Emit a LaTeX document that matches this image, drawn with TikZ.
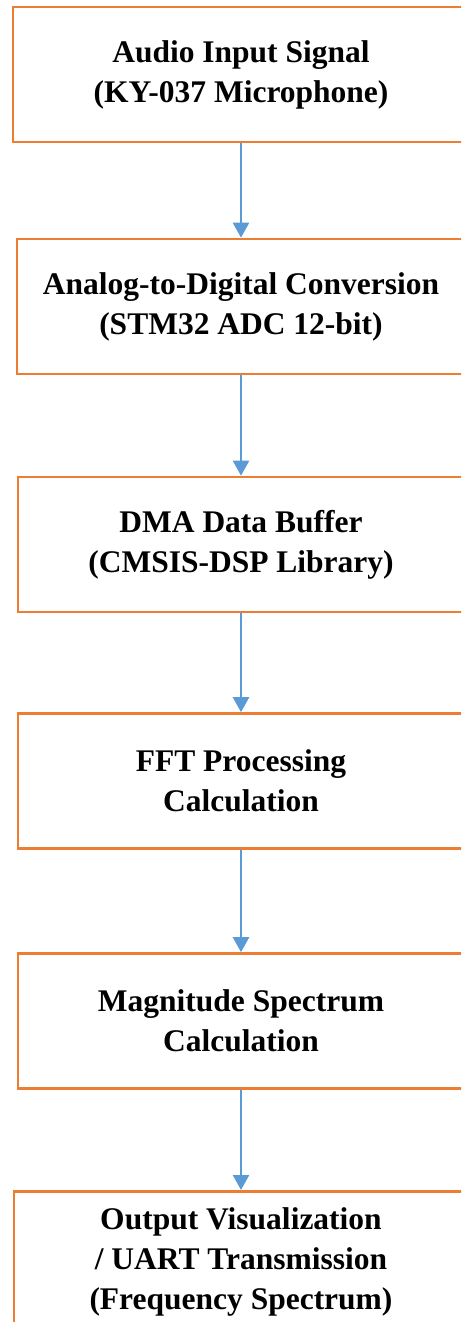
\documentclass[tikz,border=0pt]{standalone}
\usepackage{fontspec}
\setmainfont{Liberation Serif}
\usetikzlibrary{arrows.meta}
\definecolor{boxorange}{HTML}{ED7D31}
\definecolor{arrowblue}{HTML}{5B9BD5}
\tikzset{
  stepbox/.style={draw=boxorange, line width=2.6pt, fill=white, minimum height=135pt,
    align=center, inner sep=0pt, font=\fontsize{31.5}{40}\bfseries\selectfont},
  flow/.style={draw=arrowblue, line width=2.4pt, -{Triangle[width=16pt,length=15pt]}}
}
\begin{document}
\begin{tikzpicture}[x=1pt,y=-1pt]
\useasboundingbox (0,0) rectangle (461,1322);
\clip (0,0) rectangle (461,1322);
\node[stepbox, minimum width=456pt] (b1) at (241,74.5) {Audio Input Signal\\(KY-037 Microphone)};
\node[stepbox, minimum width=448pt] (b2) at (241,306.5) {Analog-to-Digital Conversion\\(STM32 ADC 12-bit)};
\node[stepbox, minimum width=446pt] (b3) at (241,544.5) {DMA Data Buffer\\(CMSIS-DSP Library)};
\node[stepbox, minimum width=446pt] (b4) at (241,781) {FFT Processing\\Calculation};
\node[stepbox, minimum width=446pt] (b5) at (241,1021) {Magnitude Spectrum\\Calculation};
\node[stepbox, minimum width=454pt, minimum height=180pt, anchor=north] (b6) at (241,1190) {};
\node[font=\fontsize{31.5}{40}\bfseries\selectfont, align=center, inner sep=0pt, anchor=base] (t6) at (241,1309) {Output Visualization\\/ UART Transmission\\(Frequency Spectrum)};
\draw[flow] (b1.south) -- (b2.north);
\draw[flow] (b2.south) -- (b3.north);
\draw[flow] (b3.south) -- (b4.north);
\draw[flow] (b4.south) -- (b5.north);
\draw[flow] (b5.south) -- (b6.north);
\end{tikzpicture}
\end{document}
